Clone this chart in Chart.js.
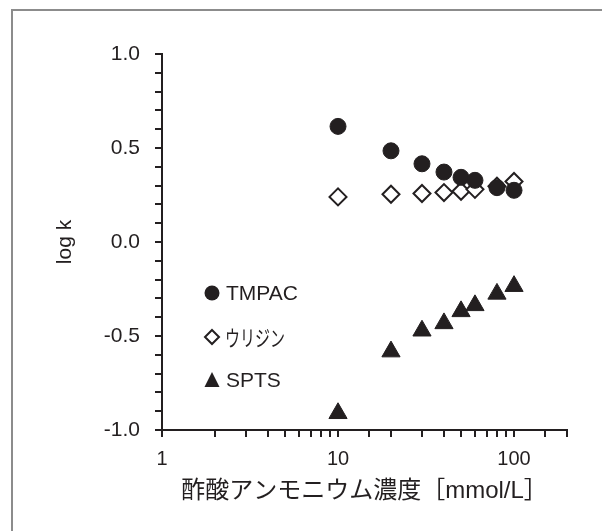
<!DOCTYPE html>
<html>
<head>
    <meta charset="utf-8">
    <title>log k vs 酢酸アンモニウム濃度</title>
    <script src="https://cdn.jsdelivr.net/npm/chart.js"></script>
    <style>
        html, body { margin: 0; padding: 0; background: #fff; }
        #wrap { position: relative; width: 602px; height: 531px; }
    </style>
</head>
<body>
    <div id="wrap"><canvas id="logkChart"></canvas></div>

    <script>
        // ammonium acetate concentration [mmol/L]
        const conc = [10, 20, 30, 40, 50, 60, 80, 100];
        // log k for each analyte
        const tmpac = [0.615, 0.485, 0.416, 0.372, 0.344, 0.328, 0.289, 0.275];
        const uridine = [0.240, 0.254, 0.258, 0.263, 0.270, 0.280, 0.297, 0.322];
        const spts = [-0.911, -0.583, -0.472, -0.433, -0.369, -0.337, -0.276, -0.235];
        // labelled ticks
        const xTickLabels = [1, 10, 100];
        const yTickLabels = [-1.0, -0.5, 0.0, 0.5, 1.0];

        const ink = "#231f20";
        const latin = "'Liberation Sans', Arial, 'Noto Sans CJK JP', sans-serif";

        function pts(ys) {
            return conc.map((c, i) => ({ x: c, y: ys[i] }));
        }

        // gray frame along top and left of the figure
        const framePlugin = {
            id: "frame",
            beforeDraw(chart) {
                const ctx = chart.ctx;
                ctx.save();
                ctx.fillStyle = "#8c8c8c";
                ctx.fillRect(11, 9, chart.width - 11, 2);
                ctx.fillRect(11, 9, 2, chart.height - 9);
                ctx.restore();
            }
        };

        // legend drawn inside the plot area, left side
        const insideLegend = {
            id: "insideLegend",
            afterDatasetsDraw(chart) {
                const ctx = chart.ctx;
                const a = chart.chartArea;
                const mx = a.left + 50, tx = a.left + 64;
                const rows = [a.top + 239, a.top + 283, a.top + 326];
                ctx.save();
                chart.data.datasets.forEach((ds, i) => {
                    const y = rows[i];
                    ctx.beginPath();
                    if (ds.pointStyle === "circle") {
                        ctx.arc(mx, y, 7.5, 0, Math.PI * 2);
                        ctx.fillStyle = ink;
                        ctx.fill();
                    } else if (ds.pointStyle === "rectRot") {
                        ctx.moveTo(mx, y - 7);
                        ctx.lineTo(mx + 7, y);
                        ctx.lineTo(mx, y + 7);
                        ctx.lineTo(mx - 7, y);
                        ctx.closePath();
                        ctx.lineWidth = 2;
                        ctx.strokeStyle = ink;
                        ctx.stroke();
                    } else {
                        ctx.moveTo(mx, y - 8);
                        ctx.lineTo(mx + 7.5, y + 7);
                        ctx.lineTo(mx - 7.5, y + 7);
                        ctx.closePath();
                        ctx.fillStyle = ink;
                        ctx.fill();
                    }
                    ctx.fillStyle = ink;
                    ctx.textBaseline = "middle";
                    if (/[^\x00-\x7f]/.test(ds.label)) {
                        // kana label is set narrow
                        ctx.font = "22px 'Noto Sans CJK JP', sans-serif";
                        ctx.fillText(ds.label, tx - 1, y + 1, 60);
                    } else {
                        ctx.font = "21px " + latin;
                        ctx.fillText(ds.label, tx, y + 1);
                    }
                });
                ctx.restore();
            }
        };

        new Chart(document.getElementById("logkChart"), {
            type: "scatter",
            data: {
                datasets: [
                    {
                        label: "TMPAC", data: pts(tmpac), pointStyle: "circle",
                        pointRadius: 8, backgroundColor: ink, borderColor: ink, borderWidth: 1
                    },
                    {
                        label: "ウリジン", data: pts(uridine), pointStyle: "rectRot",
                        pointRadius: 8.5, backgroundColor: "#fff", borderColor: ink, borderWidth: 2
                    },
                    {
                        label: "SPTS", data: pts(spts), pointStyle: "triangle",
                        pointRadius: 10.5, backgroundColor: ink, borderColor: ink, borderWidth: 1
                    }
                ]
            },
            options: {
                responsive: true,
                maintainAspectRatio: false,
                animation: false,
                layout: { padding: { left: 0, top: 54, right: 35, bottom: 0 } },
                plugins: {
                    legend: { display: false },
                    tooltip: { enabled: false }
                },
                scales: {
                    x: {
                        type: "logarithmic",
                        min: 1,
                        max: 200,
                        afterFit: s => { s.height = 101; },
                        border: { display: true, color: ink, width: 2 },
                        grid: { drawOnChartArea: false, drawTicks: true, tickLength: 7, color: ink, lineWidth: 2 },
                        ticks: {
                            autoSkip: false,
                            maxRotation: 0,
                            padding: 10,
                            color: ink,
                            font: { family: latin, size: 20 },
                            callback: v => xTickLabels.includes(v) ? String(v) : ""
                        },
                        title: {
                            display: true,
                            text: "酢酸アンモニウム濃度［mmol/L］",
                            color: ink,
                            font: { family: latin, size: 24 },
                            padding: { top: 0, bottom: 25 }
                        }
                    },
                    y: {
                        type: "linear",
                        min: -1,
                        max: 1,
                        afterFit: s => { s.width = 162; },
                        border: { display: true, color: ink, width: 2 },
                        grid: { drawOnChartArea: false, drawTicks: true, tickLength: 7, color: ink, lineWidth: 2 },
                        ticks: {
                            stepSize: 0.1,
                            autoSkip: false,
                            padding: 15,
                            color: ink,
                            font: { family: latin, size: 21 },
                            callback: v => {
                                const r = Math.round(v * 10) / 10;
                                return yTickLabels.includes(r) ? r.toFixed(1) : "";
                            }
                        },
                        title: {
                            display: true,
                            text: "log k",
                            color: ink,
                            font: { family: latin, size: 21 },
                            padding: { top: 53, bottom: 0 }
                        }
                    }
                }
            },
            plugins: [framePlugin, insideLegend]
        });
    </script>
</body>
</html>
